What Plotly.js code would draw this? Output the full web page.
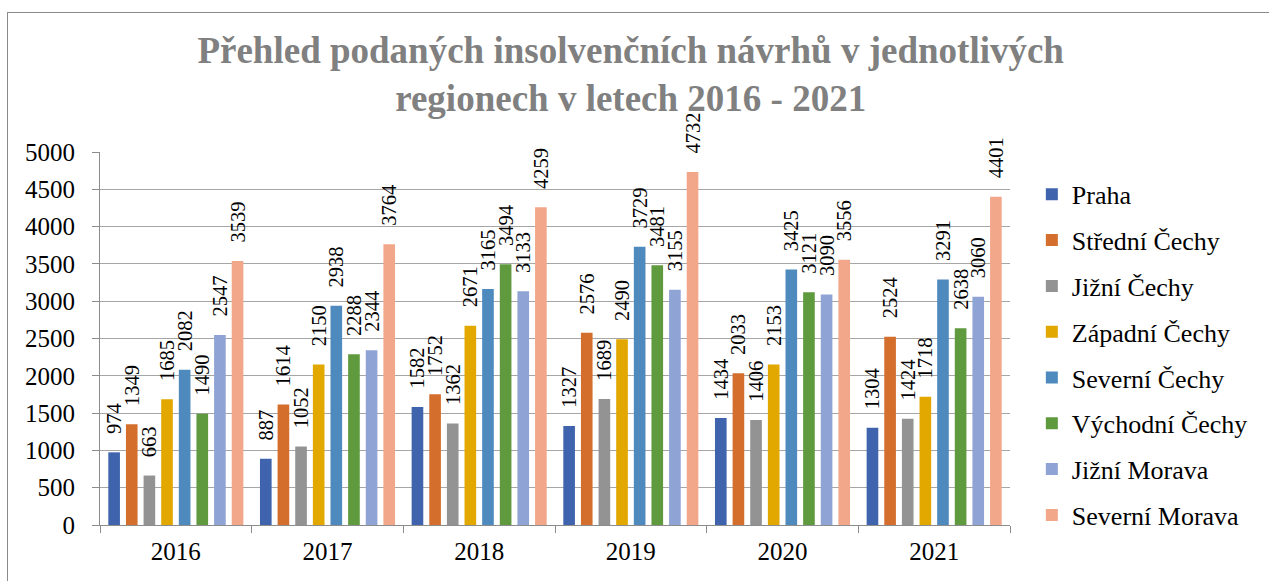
<!DOCTYPE html>
<html>
<head>
<meta charset="utf-8">
<script src="https://cdn.plot.ly/plotly-3.0.1.min.js"></script>
<style>
  html, body { margin: 0; padding: 0; background: #fff; overflow: hidden; }
  #chart { width: 1269px; height: 581px; }
  #frame { position: absolute; left: 7px; top: 12px; width: 1300px; height: 620px; border: 1px solid #8a8a8a; pointer-events: none; }
</style>
</head>
<body>
<div id="chart"></div>
<div id="frame"></div>
<script>
const years = ['2016', '2017', '2018', '2019', '2020', '2021'];
const regions = ['Praha', 'Střední Čechy', 'Jižní Čechy', 'Západní Čechy', 'Severní Čechy', 'Východní Čechy', 'Jižní Morava', 'Severní Morava'];
const praha         = [974, 887, 1582, 1327, 1434, 1304];
const stredniCechy  = [1349, 1614, 1752, 2576, 2033, 2524];
const jizniCechy    = [663, 1052, 1362, 1689, 1406, 1424];
const zapadniCechy  = [1685, 2150, 2671, 2490, 2153, 1718];
const severniCechy  = [2082, 2938, 3165, 3729, 3425, 3291];
const vychodniCechy = [1490, 2288, 3494, 3481, 3121, 2638];
const jizniMorava   = [2547, 2344, 3133, 3155, 3090, 3060];
const severniMorava = [3539, 3764, 4259, 4732, 3556, 4401];
const seriesValues = [praha, stredniCechy, jizniCechy, zapadniCechy, severniCechy, vychodniCechy, jizniMorava, severniMorava];
const colors = ['#3F64AD', '#D46E2C', '#939393', '#E2A800', '#4E8ABE', '#5F9A3E', '#8FA3D4', '#F2A78A'];
const yTicks = [0, 500, 1000, 1500, 2000, 2500, 3000, 3500, 4000, 4500, 5000];

const serif = '"Liberation Serif", "Times New Roman", serif';

const traces = regions.map((name, i) => ({
  type: 'bar',
  name: name,
  x: years,
  y: seriesValues[i],
  legendgroup: 'g' + i,
  marker: { color: colors[i] },
  texttemplate: '\u00a0\u00a0\u00a0%{y}',
  textposition: 'outside',
  textangle: -90,
  constraintext: 'none',
  cliponaxis: false,
  textfont: { family: serif, size: 20.5, color: '#000' },
  hoverinfo: 'x+y+name'
}));

const layout = {
  width: 1269,
  height: 581,
  margin: { l: 100, r: 259, t: 152, b: 56, autoexpand: false },
  paper_bgcolor: '#fff',
  plot_bgcolor: '#fff',
  barmode: 'group',
  bargap: 0.07,
  bargroupgap: 0.34,
  font: { family: serif },
  title: {
    text: 'Přehled podaných insolvenčních návrhů v jednotlivých<br>regionech v letech 2016 - 2021',
    font: { family: serif, size: 37, color: '#808080', weight: 'bold' },
    x: 0.497, xref: 'container', xanchor: 'center',
    y: 0.891, yref: 'container', yanchor: 'top'
  },
  xaxis: {
    type: 'category',
    tickson: 'boundaries',
    ticks: 'outside',
    ticklen: 7,
    tickcolor: '#8c8c8c',
    showline: true,
    linecolor: '#8c8c8c',
    linewidth: 1,
    showgrid: false,
    ticklabelstandoff: 4,
    tickfont: { family: serif, size: 25, color: '#000' },
    fixedrange: true
  },
  yaxis: {
    range: [0, 5000],
    tickvals: yTicks,
    ticktext: yTicks.map(String),
    ticks: 'outside',
    ticklen: 7,
    tickcolor: '#8c8c8c',
    showline: true,
    linecolor: '#8c8c8c',
    linewidth: 1,
    showgrid: true,
    gridcolor: '#a6a6a6',
    gridwidth: 1,
    zeroline: false,
    ticklabelstandoff: 12,
    tickfont: { family: serif, size: 25, color: '#000' },
    fixedrange: true
  },
  showlegend: true,
  legend: {
    x: 1.024, xanchor: 'left',
    y: 0.456, yanchor: 'middle',
    maxheight: 520,
    traceorder: 'grouped',
    tracegroupgap: 9,
    font: { family: serif, size: 26, color: '#000' },
    bgcolor: 'rgba(0,0,0,0)'
  }
};

Plotly.newPlot('chart', traces, layout, { displayModeBar: false });
</script>
</body>
</html>
